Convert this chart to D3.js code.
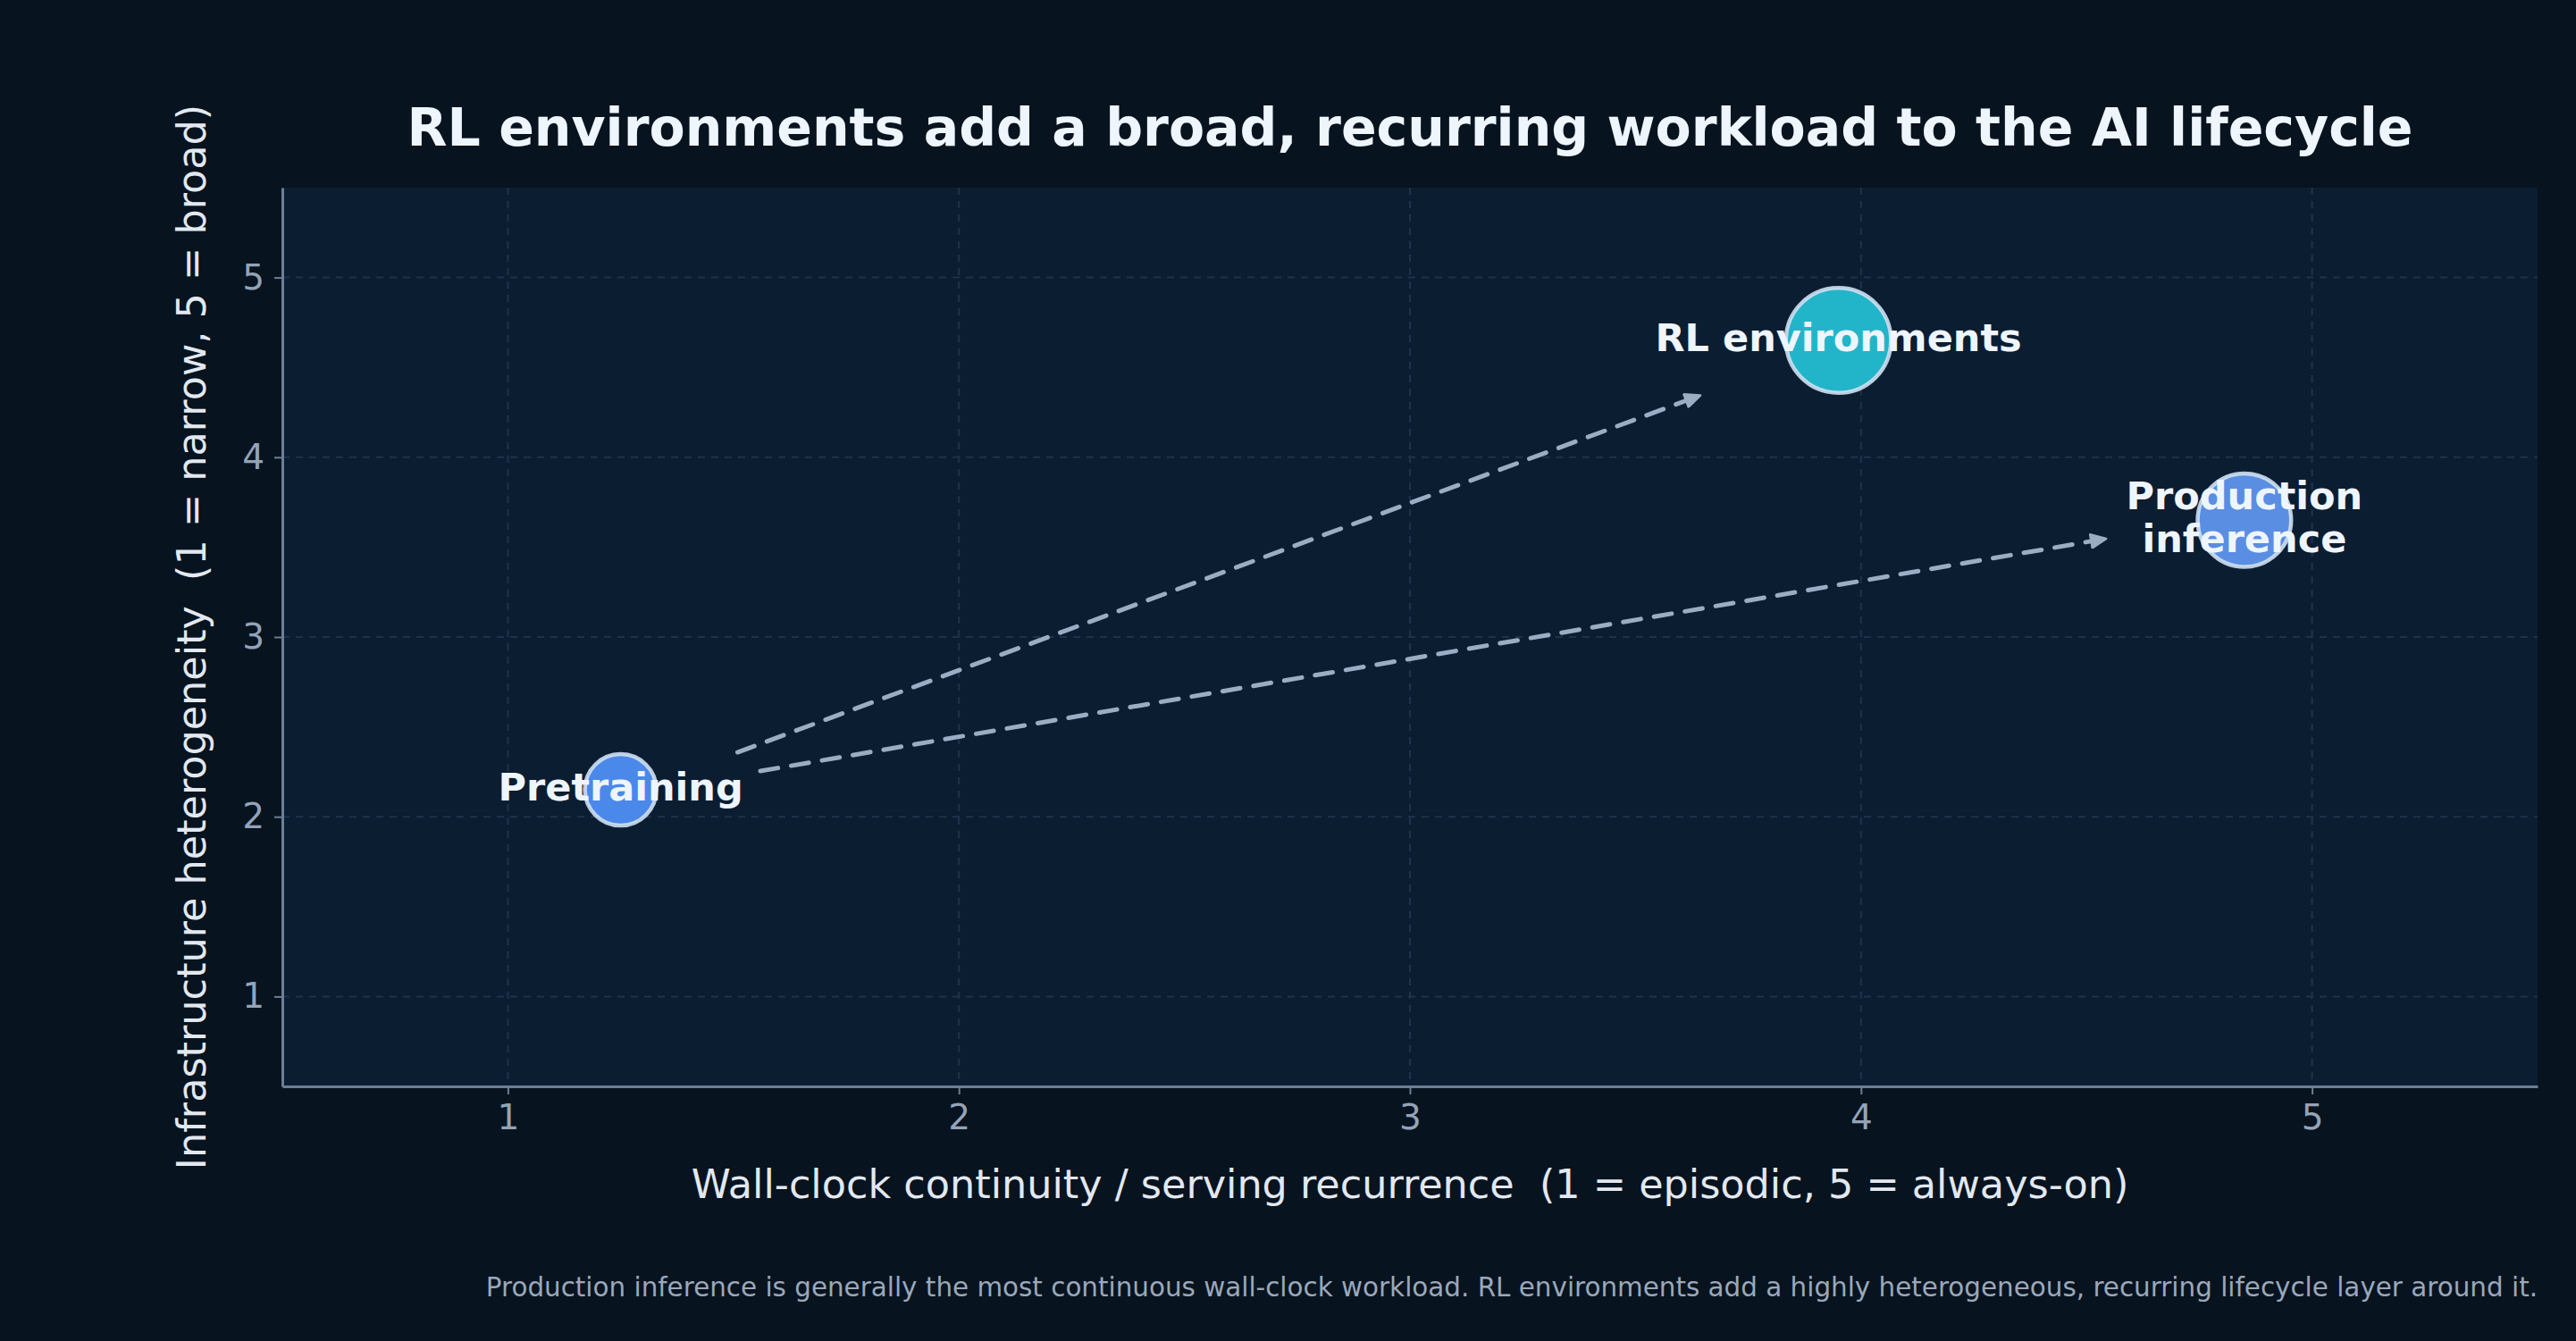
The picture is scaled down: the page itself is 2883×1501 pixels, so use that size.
<!DOCTYPE html>
<html>
<head>
<meta charset="utf-8">
<script src="https://cdn.jsdelivr.net/npm/d3@7"></script>
<style>
  html, body { margin: 0; padding: 0; background: #07131f; }
  svg { display: block; }
  text { font-family: "DejaVu Sans", sans-serif; white-space: pre; }
</style>
</head>
<body>
<div id="chart"></div>
<script>
// ---- data ----
const workloads = ["Pretraining", "RL environments", "Production inference"];
const labelLines = [["Pretraining"], ["RL environments"], ["Production", "inference"]];
const continuity = [1.25, 3.95, 4.85];      // x
const heterogeneity = [2.15, 4.65, 3.65];   // y
const bubbleSize = [1200, 2500, 2000];
const fillColors = ["#4a88ea", "#22b5c9", "#5a8ee2"];
const arrowFrom = [[1.5, 2.35], [1.55, 2.25]];
const arrowTo = [[3.65, 4.35], [4.55, 3.55]];
const xTicks = [1, 2, 3, 4, 5];
const yTicks = [1, 2, 3, 4, 5];
const titleText = "RL environments add a broad, recurring workload to the AI lifecycle";
const xLabelText = "Wall-clock continuity / serving recurrence  (1 = episodic, 5 = always-on)";
const yLabelText = "Infrastructure heterogeneity  (1 = narrow, 5 = broad)";
const footText = "Production inference is generally the most continuous wall-clock workload. RL environments add a highly heterogeneous, recurring lifecycle layer around it.";

// ---- layout ----
const W = 2883, H = 1501;
const m = { left: 316, right: 2840, top: 210, bottom: 1216 };

const svg = d3.select("#chart").append("svg").attr("width", W).attr("height", H);
svg.append("rect").attr("width", W).attr("height", H).attr("fill", "#07131f");

const x = d3.scaleLinear().domain([0.5, 5.5]).range([m.left, m.right]);
const y = d3.scaleLinear().domain([0.5, 5.5]).range([m.bottom, m.top]);
const r = d3.scaleSqrt().domain([0, 2500]).range([0, 61]);

// plot background
svg.append("rect")
  .attr("x", m.left).attr("y", m.top)
  .attr("width", m.right - m.left).attr("height", m.bottom - m.top)
  .attr("fill", "#0b1d31");

// grid
const grid = svg.append("g");
grid.selectAll("line.gx").data(xTicks).join("line")
  .attr("x1", d => x(d)).attr("x2", d => x(d))
  .attr("y1", m.top).attr("y2", m.bottom)
  .attr("stroke", "#1e334b").attr("stroke-width", 2).attr("stroke-dasharray", "8,7");
grid.selectAll("line.gy").data(yTicks).join("line")
  .attr("y1", d => y(d)).attr("y2", d => y(d))
  .attr("x1", m.left).attr("x2", m.right)
  .attr("stroke", "#1e334b").attr("stroke-width", 2).attr("stroke-dasharray", "8,7");

// axes
const axColor = "#6b7f96";
const gx = svg.append("g").attr("transform", `translate(0,${m.bottom})`)
  .call(d3.axisBottom(x).tickValues(xTicks).tickFormat(d3.format("d")).tickSize(9).tickSizeOuter(0).tickPadding(11));
const gy = svg.append("g").attr("transform", `translate(${m.left},0)`)
  .call(d3.axisLeft(y).tickValues(yTicks).tickFormat(d3.format("d")).tickSize(9).tickSizeOuter(0).tickPadding(11));
[gx, gy].forEach(g => {
  g.select(".domain").attr("stroke", axColor).attr("stroke-width", 3);
  g.selectAll(".tick line").attr("stroke", axColor).attr("stroke-width", 2);
  g.selectAll(".tick text").attr("fill", "#94a3b8").attr("font-size", 39)
    .attr("font-family", "DejaVu Sans");
});

// arrows
const arrowColor = "#9aadc2";
const defs = svg.append("defs");
defs.append("marker").attr("id", "ah")
  .attr("viewBox", "0 0 10 10").attr("refX", 9).attr("refY", 5)
  .attr("markerUnits", "userSpaceOnUse")
  .attr("markerWidth", 20).attr("markerHeight", 17)
  .attr("orient", "auto")
  .append("path").attr("d", "M0,0.5 L10,5 L0,9.5 Z")
  .attr("fill", arrowColor).attr("stroke", arrowColor).attr("stroke-width", 1.5).attr("stroke-linejoin", "round");

const shrink = 5;
svg.append("g").selectAll("line").data(arrowFrom.map((f, i) => [f, arrowTo[i]])).join("line")
  .each(function(d) {
    const x1 = x(d[0][0]), y1 = y(d[0][1]), x2 = x(d[1][0]), y2 = y(d[1][1]);
    const L = Math.hypot(x2 - x1, y2 - y1), ux = (x2 - x1) / L, uy = (y2 - y1) / L;
    d3.select(this)
      .attr("x1", x1 + ux * shrink).attr("y1", y1 + uy * shrink)
      .attr("x2", x2 - ux * shrink).attr("y2", y2 - uy * shrink);
  })
  .attr("stroke", arrowColor).attr("stroke-width", 5)
  .attr("stroke-linecap", "round")
  .attr("stroke-dasharray", "20,15")
  .attr("marker-end", "url(#ah)");

// bubbles
const pts = workloads.map((w, i) => ({ w, x: continuity[i], y: heterogeneity[i], s: bubbleSize[i], c: fillColors[i], lines: labelLines[i] }));
svg.append("g").selectAll("circle").data(pts).join("circle")
  .attr("cx", d => x(d.x)).attr("cy", d => y(d.y))
  .attr("r", d => r(d.s) - 2.25)
  .attr("fill", d => d.c)
  .attr("stroke", "#cfe0f2").attr("stroke-opacity", 0.9).attr("stroke-width", 4.5);

// labels
const lineH = 48;
const lbl = svg.append("g").selectAll("text").data(pts).join("text")
  .attr("text-anchor", "middle")
  .attr("font-size", 43).attr("font-weight", "bold")
  .attr("fill", "#eef5fd");
lbl.each(function(d) {
  const t = d3.select(this);
  const n = d.lines.length;
  d.lines.forEach((ln, k) => {
    t.append("tspan")
      .attr("x", x(d.x))
      .attr("y", y(d.y) + 12 + (k - (n - 1) / 2) * lineH)
      .text(ln);
  });
});

// title
svg.append("text")
  .attr("x", (m.left + m.right) / 2).attr("y", 163)
  .attr("text-anchor", "middle").attr("font-size", 58.5).attr("font-weight", "bold")
  .attr("fill", "#eef5fd").text(titleText);

// axis labels
svg.append("text")
  .attr("x", (m.left + m.right) / 2).attr("y", 1341)
  .attr("text-anchor", "middle").attr("font-size", 44.5)
  .attr("fill", "#e2e8f0").text(xLabelText);
svg.append("text")
  .attr("transform", `translate(230,${(m.top + m.bottom) / 2}) rotate(-90)`)
  .attr("text-anchor", "middle").attr("font-size", 44.5)
  .attr("fill", "#e2e8f0").text(yLabelText);

// footnote
svg.append("text")
  .attr("x", m.right).attr("y", 1451)
  .attr("text-anchor", "end").attr("font-size", 29.4)
  .attr("fill", "#9aa8ba").text(footText);
</script>
</body>
</html>
